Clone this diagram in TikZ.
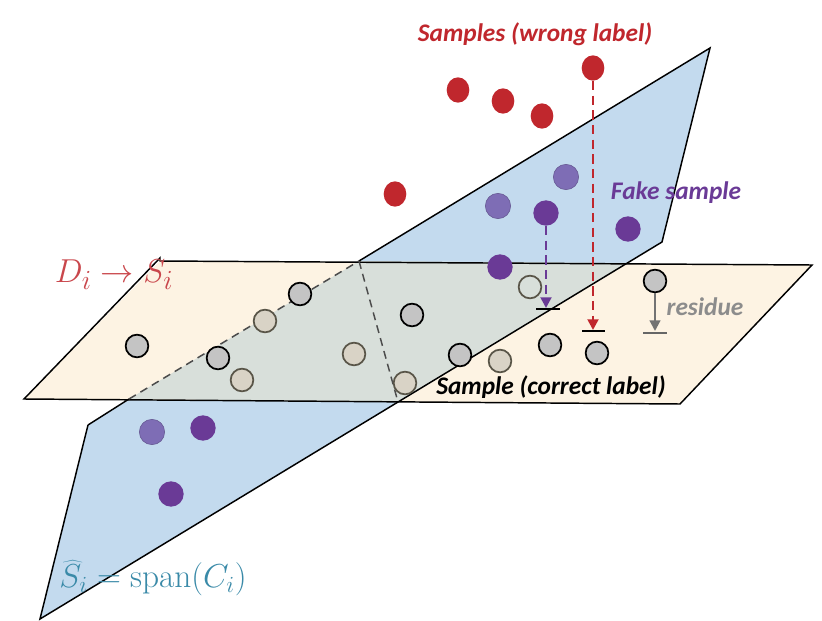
\documentclass[tikz,border=0pt]{standalone}
\usepackage{fontspec}
\newfontfamily\carl{Carlito}
\usetikzlibrary{arrows.meta,shapes.geometric}
\definecolor{bluep}{HTML}{C3DAEE}
\definecolor{tanp}{HTML}{FDF3E3}
\definecolor{ovl}{HTML}{D8DFDA}
\definecolor{redc}{HTML}{C0272D}
\definecolor{purd}{HTML}{6A3A96}
\definecolor{purl}{HTML}{7E6DB5}
\definecolor{grayc}{HTML}{C4C4C4}
\definecolor{tanc}{HTML}{D9D3C6}
\definecolor{tanb}{HTML}{595548}
\definecolor{tealc}{HTML}{3A8AA8}
\begin{document}
\begin{tikzpicture}[x=0.75pt,y=-0.75pt,
  gdot/.style={circle,draw=black,line width=1.3pt,fill=grayc,minimum size=17pt,inner sep=0},
  tdot/.style={circle,draw=tanb,line width=1.3pt,fill=tanc,minimum size=17pt,inner sep=0},
  hdot/.style={circle,draw=tanb,line width=1.3pt,fill=ovl,minimum size=17pt,inner sep=0},
  rdot/.style={ellipse,fill=redc,minimum width=17pt,minimum height=19pt,inner sep=0},
  pdot/.style={circle,fill=purd,minimum size=19pt,inner sep=0},
  ldot/.style={circle,fill=purl,draw=purl!80!black,minimum size=19pt,inner sep=0},
  edge/.style={line width=1.1pt,black},
  dedge/.style={line width=1.1pt,black!70,dash pattern=on 6pt off 4pt},
  lab/.style={font=\carl\bfseries\itshape\fontsize{19}{22}\selectfont}]
\useasboundingbox (0,0) rectangle (822,621);
% planes
\fill[bluep] (88,425)--(710,48)--(662,242)--(40,619)--cycle;
\fill[tanp] (160,261)--(812,265)--(680,404)--(24,399)--cycle;
\fill[ovl] (359,261)--(627,263)--(398,402)--(129,399)--cycle;
% tan outline
\draw[edge] (160,258)--(160,261)--(812,265)--(680,404)--(24,399)--cycle;
% blue outline
\coordinate (A) at (88,425); \coordinate (B) at (710,48); \coordinate (C) at (662,242); \coordinate (D) at (40,619);
\coordinate (P) at (129,399); \coordinate (Q) at (359,261); \coordinate (R) at (398,402);
\draw[edge] (A)--(P); \draw[dedge] (P)--(Q); \draw[edge] (Q)--(B)--(C)--(D)--(A);
\draw[dedge] (Q)--(R);
% dots
\foreach \n/\x/\y in {g1/137/346,g2/300/294,g3/218/358,g4/412/315,g5/460/355,g6/550/345,g7/597/353,g8/655/281}
  \node[gdot] (\n) at (\x,\y) {};
\foreach \n/\x/\y in {t1/265/321,t2/242/380,t3/354/354,t4/405/383,t5/500/361}
  \node[tdot] (\n) at (\x,\y) {};
\node[hdot] (h1) at (530,287) {};
\foreach \n/\x/\y in {r1/458/90,r2/503/101,r3/542/116,r4/395/194,r5/593/68}
  \node[rdot] (\n) at (\x,\y) {};
\node[pdot] (p1) at (546,213) {};
\node[pdot] (p2) at (628,229) {};
\node[pdot] (p3) at (500,267) {};
\node[pdot] (p4) at (203,428) {};
\node[pdot] (p5) at (171,494) {};
\node[ldot] (l1) at (566,177) {};
\node[ldot] (l2) at (498,206) {};
\node[ldot] (l3) at (152,432) {};
% arrows
\coordinate (pa) at (546,308); \coordinate (ra) at (593,330); \coordinate (ga) at (655,331);
\draw[purd,line width=2pt,dash pattern=on 7pt off 4pt,-{Triangle[length=8pt,width=8pt]}] (p1) -- (pa);
\draw[black,line width=0.8pt] (536,309)--(560,309);
\draw[redc,line width=2pt,dash pattern=on 7pt off 4pt,-{Triangle[length=8pt,width=8pt]}] (r5) -- (ra);
\draw[black,line width=0.8pt] (582,331)--(605,331);
\draw[black!55,line width=1.6pt,-{Triangle[length=8pt,width=8pt]}] (g8) -- (ga);
\draw[black!60,line width=0.8pt] (643,333)--(667,333);
% labels
\node[lab,text=redc] (wl) at (535,34) {Samples (wrong label)};
\node[lab,text=purd] (fs) at (676,193) {Fake sample};
\node[lab,text=black!45] (rs) at (705,307) {residue};
\node[lab,text=black] (cl) at (551,387) {Sample (correct label)};
\node[text=redc!85,font=\fontsize{29}{32}\selectfont] (ds) at (114,275) {$D_i\rightarrow S_i$};
\node[text=tealc,font=\fontsize{25}{28}\selectfont] (ss) at (153,578) {$\widehat{S}_i=\mathrm{span}(C_i)$};
\end{tikzpicture}
\end{document}
